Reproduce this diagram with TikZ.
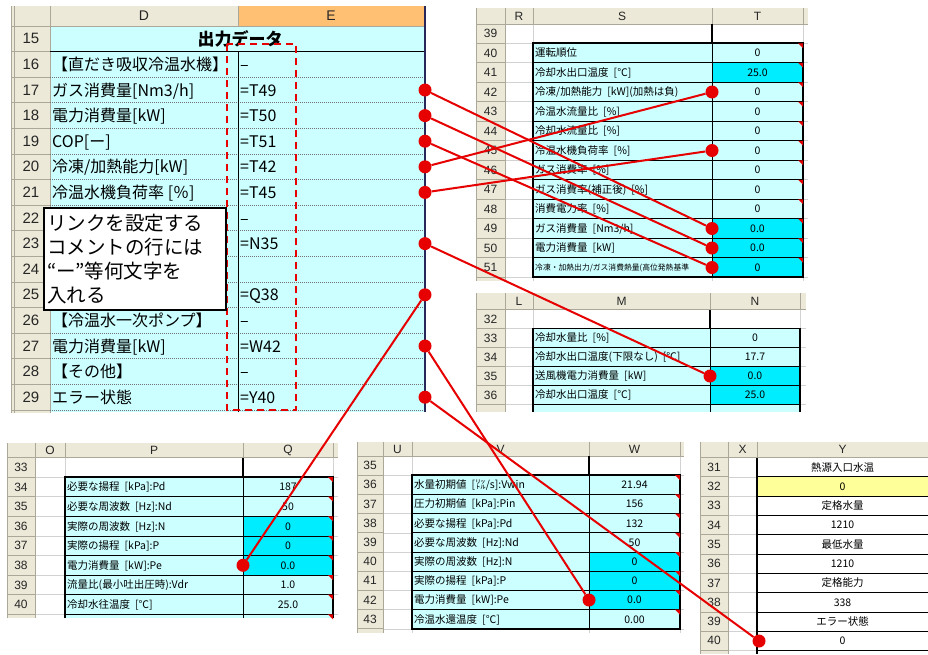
\documentclass[tikz,border=0pt]{standalone}
\usepackage{fontspec}
\setmainfont{Noto Sans CJK JP}
\newfontfamily\arialf{Liberation Sans}
\definecolor{lcyan}{RGB}{204,255,255}
\definecolor{bcyan}{RGB}{0,236,255}
\definecolor{hgray}{RGB}{236,233,216}
\definecolor{hline}{RGB}{172,168,153}
\definecolor{gline}{RGB}{210,210,210}
\definecolor{orng}{RGB}{255,192,115}
\definecolor{lyel}{RGB}{255,255,153}
\definecolor{linkred}{RGB}{230,0,0}
\definecolor{mynavy}{RGB}{40,40,90}
\newcommand\gp{\hspace{5pt}}
\begin{document}
\begin{tikzpicture}[x=1pt,y=-1pt,
  maintxt/.style={anchor=west,inner sep=0pt,text height=12.5pt,text depth=0.5pt,font=\fontsize{16}{16}\selectfont},
  rownum/.style={inner sep=0pt,text=black!85,font=\arialf\fontsize{15}{15}\selectfont},
  colhdr/.style={inner sep=0pt,text=black!85,font=\arialf\fontsize{14}{14}\selectfont},
  smtxt/.style={anchor=west,inner sep=0pt,text height=8.2pt,text depth=0.4pt,font=\fontsize{10.5}{10.5}\selectfont},
  smval/.style={inner sep=0pt,text height=8.2pt,text depth=0.4pt,font=\fontsize{10.5}{10.5}\selectfont},
  smnum/.style={inner sep=0pt,text=black!85,font=\arialf\fontsize{12}{12}\selectfont},
  hl/.style={draw=hline,line width=0.8pt},
  gl/.style={draw=gline,line width=0.6pt},
  cl/.style={draw=black,line width=0.7pt},
  bl/.style={draw=black,line width=1.6pt},
  dotl/.style={draw=black!55,line width=0.8pt,dash pattern=on 1pt off 1pt},
  cmt/.style={fill=red!90!black},
  linkdot/.style={circle,fill=linkred,minimum size=13pt,inner sep=0pt},
  link/.style={draw=linkred,line width=2pt},
]
\useasboundingbox (0,0) rectangle (928,654);
\fill[white] (0,0) rectangle (928,654);

% ================= main panel (D/E)
\fill[hgray] (11,6) rectangle (425,26);
\fill[hgray] (11,26) rectangle (50,413);
\fill[orng] (238,6) rectangle (425,26);
\fill[lcyan] (50,26) rectangle (425,412);
\draw[hl] (11,26) -- (425,26);
\draw[hl] (50,6) -- (50,413);
\draw[hl] (238,6) -- (238,26);
\draw[hl] (11,6) -- (11,413);
\draw[hl] (14,6) -- (14,413);
\foreach \r in {16,...,30}{\pgfmathsetmacro\yy{26+(\r-15)*25.6}
  \draw[hl] (11,\yy) -- (50,\yy);}
\foreach \r in {17,...,30}{\pgfmathsetmacro\yy{26+(\r-15)*25.6}
  \draw[dotl] (50,\yy) -- (425,\yy);}
\draw[black,line width=0.9pt] (50,51.6) -- (425,51.6);
\draw[black,line width=0.9pt] (238,51.6) -- (238,412);
\draw[mynavy,line width=1.4pt] (425,6) -- (425,412);
\node[colhdr] (hD) at (144,16) {D};
\node[colhdr] (hE) at (331,16) {E};
\foreach \r in {15,...,29}{\pgfmathsetmacro\yc{26+(\r-15)*25.6+12.8}
  \node[rownum] (mr\r) at (31,\yc) {\r};}
\node[inner sep=0pt,font=\fontsize{17}{17}\selectfont\bfseries] (title) at (240,38.8) {出力データ};
\foreach \r/\t/\v in {16/{【直だき吸収冷温水機】}/{–},17/{ガス消費量[Nm3/h]}/{=T49},18/{電力消費量[kW]}/{=T50},
  19/{COP[ー]}/{=T51},20/{冷凍/加熱能力[kW]}/{=T42},21/{冷温水機負荷率 [％]}/{=T45},
  26/{【冷温水一次ポンプ】}/{–},27/{電力消費量[kW]}/{=W42},28/{【その他】}/{–},29/{エラー状態}/{=Y40}}{
  \pgfmathsetmacro\yc{26+(\r-15)*25.6+12.8}
  \node[maintxt] (d\r) at (52,\yc) {\t};
  \node[maintxt] (e\r) at (240,\yc) {\v};}
\foreach \r/\v in {22/{–},23/{=N35},25/{=Q38}}{
  \pgfmathsetmacro\yc{26+(\r-15)*25.6+12.8}
  \node[maintxt] (e\r) at (240,\yc) {\v};}
\draw[linkred,line width=1.6pt,dash pattern=on 7pt off 5pt] (227,44) rectangle (296,410);
\node[draw=black,line width=1.2pt,fill=white,minimum width=182pt,minimum height=102pt,
  text width=176pt,align=left,inner sep=0pt,font=\fontsize{19.5}{24}\selectfont] (callout) at (135,259)
  {リンクを設定する\\コメントの行には\\“ー”等何文字を\\入れる};

% ================= S/T panel
\fill[hgray] (476,8) rectangle (808,281);
\fill[white] (505,24) rectangle (808,281);
\foreach \r in {40,...,52}{\pgfmathsetmacro\yy{43.25+(\r-40)*19.5}
  \draw[hl] (476,\yy) -- (505,\yy); \draw[gl] (505,\yy) -- (808,\yy);}
\foreach \x in {533,712,803}{\draw[gl] (\x,24) -- (\x,281); \draw[hl] (\x,8) -- (\x,24);}
\draw[hl] (476,24) -- (808,24);
\draw[hl] (505,8) -- (505,281);
\draw[hl] (476,8) -- (476,281);
\node[smnum] (hR) at (519,16) {R};
\node[smnum] (hS) at (622,16) {S};
\node[smnum] (hT) at (757.5,16) {T};
\foreach \r in {39,...,51}{\pgfmathsetmacro\yc{33.5+(\r-39)*19.5}
  \node[smnum] (nst\r) at (490.5,\yc) {\r};}
\fill[lcyan] (533,43.25) rectangle (803,277.25);
\fill[bcyan] (712,62.75) rectangle (803,82.25);
\fill[bcyan] (712,218.75) rectangle (803,277.25);
\foreach \r in {41,...,51}{\pgfmathsetmacro\yy{43.25+(\r-40)*19.5}
  \draw[cl] (533,\yy) -- (803,\yy);}
\draw[cl] (712,43.25) -- (712,277.25);
\draw[black,line width=2pt] (712,24) -- (712,43.25);
\draw[bl] (533,43.25) rectangle (803,277.25);
\foreach \r in {40,...,51}{\pgfmathsetmacro\yy{43.25+(\r-40)*19.5}
  \fill[cmt] (803,\yy) -- (798,\yy) -- (803,\yy+5) -- cycle;}
\foreach \r/\s/\v in {40/{運転順位}/{0},41/{冷却水出口温度\gp[℃]}/{25.0},42/{冷凍/加熱能力\gp[kW](加熱は負)}/{0},
  43/{冷温水流量比\gp[\%]}/{0},44/{冷却水流量比\gp[\%]}/{0},45/{冷温水機負荷率\gp[\%]}/{0},
  46/{ガス消費率\gp[\%]}/{0},47/{ガス消費率(補正後)\gp[\%]}/{0},48/{消費電力率\gp[\%]}/{0},
  49/{ガス消費量\gp[Nm3/h]}/{0.0},50/{電力消費量\gp[kW]}/{0.0}}{
  \pgfmathsetmacro\yc{53+(\r-40)*19.5}
  \node[smtxt] (s\r) at (535,\yc) {\s};
  \node[smval] (t\r) at (757.5,\yc) {\v};}
\node[anchor=west,inner sep=0pt,font=\fontsize{7.8}{8}\selectfont] (s51) at (535,267.5) {冷凍・加熱出力/ガス消費熱量(高位発熱基準};
\node[smval] (t51) at (757.5,267.5) {0};

% ================= M/N panel
\fill[hgray] (476,293) rectangle (806,412);
\fill[white] (505,309.5) rectangle (806,412);
\foreach \r in {33,...,37}{\pgfmathsetmacro\yy{309.5+(\r-32)*19}
  \draw[hl] (476,\yy) -- (505,\yy); \draw[gl] (505,\yy) -- (806,\yy);}
\foreach \x in {533,710,800}{\draw[gl] (\x,309.5) -- (\x,412); \draw[hl] (\x,293) -- (\x,309.5);}
\draw[hl] (476,309.5) -- (806,309.5);
\draw[hl] (505,293) -- (505,412);
\draw[hl] (476,293) -- (476,412);
\node[smnum] (hL) at (519,301.5) {L};
\node[smnum] (hM) at (621.5,301.5) {M};
\node[smnum] (hN) at (755,301.5) {N};
\foreach \r in {32,...,36}{\pgfmathsetmacro\yc{309.5+(\r-32)*19+9.5}
  \node[smnum] (nmn\r) at (490.5,\yc) {\r};}
\fill[lcyan] (533,328.5) rectangle (800,412);
\fill[bcyan] (710,366.5) rectangle (800,404.5);
\foreach \r in {34,...,37}{\pgfmathsetmacro\yy{309.5+(\r-32)*19}
  \draw[cl] (533,\yy) -- (800,\yy);}
\draw[cl] (710,328.5) -- (710,412);
\draw[black,line width=2pt] (710,309.5) -- (710,328.5);
\draw[bl] (533,412) -- (533,328.5) -- (800,328.5) -- (800,412);
\foreach \r/\s/\v in {33/{冷却水量比\gp[\%]}/{0},34/{冷却水出口温度(下限なし)\gp[℃]}/{17.7},
  35/{送風機電力消費量\gp[kW]}/{0.0},36/{冷却水出口温度\gp[℃]}/{25.0}}{
  \pgfmathsetmacro\yc{309.5+(\r-32)*19+9.5}
  \node[smtxt] (m\r) at (535,\yc) {\s};
  \node[smval] (n\r) at (755,\yc) {\v};}

% ================= P/Q panel
\fill[hgray] (7,443) rectangle (338,618);
\fill[white] (35,457.5) rectangle (338,618);
\foreach \r in {34,...,41}{\pgfmathsetmacro\yy{457.5+(\r-33)*19.6}
  \draw[hl] (7,\yy) -- (35,\yy); \draw[gl] (35,\yy) -- (338,\yy);}
\foreach \x in {65,243,333}{\draw[gl] (\x,457.5) -- (\x,618); \draw[hl] (\x,443) -- (\x,457.5);}
\draw[hl] (7,457.5) -- (338,457.5);
\draw[hl] (35,443) -- (35,618);
\draw[hl] (7,443) -- (7,618);
\node[smnum] (hO) at (50,450.5) {O};
\node[smnum] (hP) at (154,450.5) {P};
\node[smnum] (hQ) at (288,450.5) {Q};
\foreach \r in {33,...,40}{\pgfmathsetmacro\yc{457.5+(\r-33)*19.6+9.8}
  \node[smnum] (npq\r) at (21,\yc) {\r};}
\fill[lcyan] (65,477.1) rectangle (333,618);
\fill[bcyan] (243,516.3) rectangle (333,575.1);
\foreach \r in {35,...,41}{\pgfmathsetmacro\yy{457.5+(\r-33)*19.6}
  \draw[cl] (65,\yy) -- (333,\yy);}
\draw[cl] (243,477.1) -- (243,618);
\draw[black,line width=2pt] (243,457.5) -- (243,477.1);
\draw[bl] (65,618) -- (65,477.1) -- (333,477.1) -- (333,618);
\foreach \r in {34,...,41}{\pgfmathsetmacro\yy{457.5+(\r-33)*19.6}
  \fill[cmt] (333,\yy) -- (328,\yy) -- (333,\yy+5) -- cycle;}
\foreach \r/\s/\v in {34/{必要な揚程\gp[kPa]:Pd}/{187},35/{必要な周波数\gp[Hz]:Nd}/{50},
  36/{実際の周波数\gp[Hz]:N}/{0},37/{実際の揚程\gp[kPa]:P}/{0},38/{電力消費量\gp[kW]:Pe}/{0.0},
  39/{流量比(最小吐出圧時):Vdr}/{1.0},40/{冷却水往温度\gp[℃]}/{25.0}}{
  \pgfmathsetmacro\yc{457.5+(\r-33)*19.6+9.8}
  \node[smtxt] (p\r) at (67,\yc) {\s};
  \node[smval] (q\r) at (288,\yc) {\v};}

% ================= V/W panel
\fill[hgray] (357,442) rectangle (684,633);
\fill[white] (383,456) rectangle (684,633);
\foreach \r in {36,...,44}{\pgfmathsetmacro\yy{456+(\r-35)*19.2}
  \draw[hl] (357,\yy) -- (383,\yy); \draw[gl] (383,\yy) -- (684,\yy);}
\foreach \x in {412,589,680}{\draw[gl] (\x,456) -- (\x,633); \draw[hl] (\x,442) -- (\x,456);}
\draw[hl] (357,456) -- (684,456);
\draw[hl] (383,442) -- (383,633);
\draw[hl] (357,442) -- (357,633);
\node[smnum] (hU) at (397.5,449) {U};
\node[smnum] (hV) at (500.5,449) {V};
\node[smnum] (hW) at (634.5,449) {W};
\foreach \r in {35,...,43}{\pgfmathsetmacro\yc{456+(\r-35)*19.2+9.6}
  \node[smnum] (nvw\r) at (370,\yc) {\r};}
\fill[lcyan] (412,475.2) rectangle (680,628.8);
\fill[bcyan] (589,552) rectangle (680,609.6);
\foreach \r in {37,...,43}{\pgfmathsetmacro\yy{456+(\r-35)*19.2}
  \draw[cl] (412,\yy) -- (680,\yy);}
\draw[cl] (589,475.2) -- (589,628.8);
\draw[black,line width=2pt] (589,456) -- (589,475.2);
\draw[bl] (412,475.2) rectangle (680,628.8);
\foreach \r in {36,...,43}{\pgfmathsetmacro\yy{456+(\r-35)*19.2}
  \fill[cmt] (680,\yy) -- (675,\yy) -- (680,\yy+5) -- cycle;}
\foreach \r/\s/\v in {36/{水量初期値\gp[㍑/s]:Vwin}/{21.94},37/{圧力初期値\gp[kPa]:Pin}/{156},
  38/{必要な揚程\gp[kPa]:Pd}/{132},39/{必要な周波数\gp[Hz]:Nd}/{50},40/{実際の周波数\gp[Hz]:N}/{0},
  41/{実際の揚程\gp[kPa]:P}/{0},42/{電力消費量\gp[kW]:Pe}/{0.0},43/{冷温水還温度\gp[℃]}/{0.00}}{
  \pgfmathsetmacro\yc{456+(\r-35)*19.2+9.6}
  \node[smtxt] (v\r) at (414,\yc) {\s};
  \node[smval] (w\r) at (634.5,\yc) {\v};}

% ================= X/Y panel
\fill[hgray] (700,442) rectangle (928,654);
\fill[white] (728,457.5) rectangle (928,654);
\foreach \r in {32,...,41}{\pgfmathsetmacro\yy{457.5+(\r-31)*19.3}
  \draw[hl] (700,\yy) -- (728,\yy); \draw[gl] (728,\yy) -- (757,\yy);}
\draw[hl] (728,442) -- (728,654);
\draw[hl] (757,442) -- (757,457.5);
\draw[hl] (700,457.5) -- (928,457.5);
\draw[hl] (700,442) -- (700,654);
\node[smnum] (hX) at (742.5,449.5) {X};
\node[smnum] (hY) at (842.5,449.5) {Y};
\foreach \r in {31,...,40}{\pgfmathsetmacro\yc{457.5+(\r-31)*19.3+9.65}
  \node[smnum] (nxy\r) at (714,\yc) {\r};}
\fill[lyel] (757,476.8) rectangle (928,496.1);
\foreach \r in {32,...,41}{\pgfmathsetmacro\yy{457.5+(\r-31)*19.3}
  \draw[cl] (757,\yy) -- (928,\yy);}
\draw[black,line width=1.6pt] (757,457.5) -- (757,654);
\foreach \r/\v in {31/{熱源入口水温},32/{0},33/{定格水量},34/{1210},35/{最低水量},36/{1210},
  37/{定格能力},38/{338},39/{エラー状態},40/{0}}{
  \pgfmathsetmacro\yc{457.5+(\r-31)*19.3+9.65}
  \node[smval] (y\r) at (842.5,\yc) {\v};}

% ================= link dots
\node[linkdot] (de17) at (425,90) {};
\node[linkdot] (de18) at (425,115.6) {};
\node[linkdot] (de19) at (425,141.2) {};
\node[linkdot] (de20) at (425,166.8) {};
\node[linkdot] (de21) at (425,192.4) {};
\node[linkdot] (de23) at (425,243.6) {};
\node[linkdot] (de25) at (425,294.8) {};
\node[linkdot] (de27) at (425,346) {};
\node[linkdot] (de29) at (425,397.2) {};
\node[linkdot] (dt42) at (712,92) {};
\node[linkdot] (dt45) at (712,150.5) {};
\node[linkdot] (dt49) at (712,228.5) {};
\node[linkdot] (dt50) at (712,248) {};
\node[linkdot] (dt51) at (712,267.5) {};
\node[linkdot] (dn35) at (710,376) {};
\node[linkdot] (dq38) at (243,565.3) {};
\node[linkdot] (dw42) at (589,600) {};
\node[linkdot] (dy40) at (759,641) {};

% ================= links
\draw[link] (de17) -- (dt49);
\draw[link] (de18) -- (dt50);
\draw[link] (de19) -- (dt51);
\draw[link] (de20) -- (dt42);
\draw[link] (de21) -- (dt45);
\draw[link] (de23) -- (dn35);
\draw[link] (de25) -- (dq38);
\draw[link] (de27) -- (dw42);
\draw[link] (de29) -- (dy40);
\end{tikzpicture}
\end{document}
